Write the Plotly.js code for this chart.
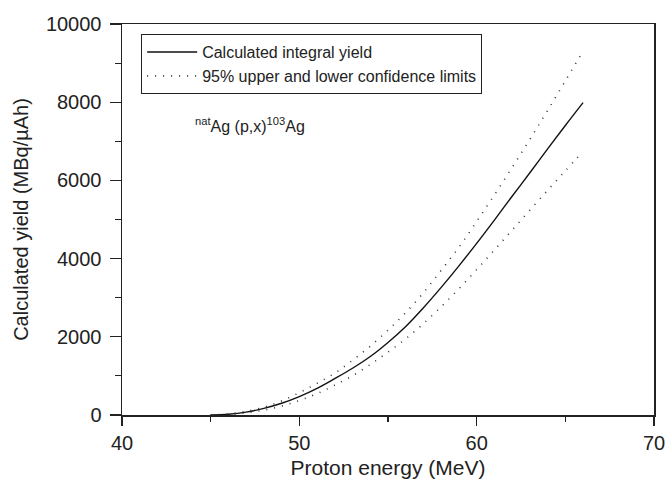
<!DOCTYPE html>
<html>
<head>
<meta charset="utf-8">
<script src="https://cdn.plot.ly/plotly-3.0.1.min.js"></script>
<style>html,body{margin:0;padding:0;background:#fff;}#chart{width:667px;height:481px;}</style>
</head>
<body>
<div id="chart"></div>
<script>
const energy = [45, 46, 47, 48, 49, 50, 51, 52, 53, 54, 55, 56, 57, 58, 59, 60, 61, 62, 63, 64, 65, 66];
const yieldCalc = [0, 20, 75, 170, 300, 470, 680, 930, 1195, 1495, 1855, 2265, 2745, 3265, 3815, 4390, 4985, 5595, 6195, 6805, 7405, 7990];
const yieldUpper = [0, 30, 95, 200, 360, 570, 810, 1070, 1400, 1760, 2170, 2620, 3130, 3700, 4290, 4950, 5630, 6330, 7050, 7790, 8545, 9305];
const yieldLower = [0, 15, 55, 125, 230, 370, 545, 765, 1005, 1290, 1610, 1950, 2340, 2770, 3230, 3720, 4220, 4730, 5240, 5745, 6245, 6740];
const xTicks = [40, 50, 60, 70];
const yTicks = [0, 2000, 4000, 6000, 8000, 10000];

const font = 'Liberation Sans, Arial, sans-serif';

const traces = [
  {x: energy, y: yieldCalc, mode: 'lines', line: {shape: 'spline', color: '#111', width: 1.4},
   name: 'Calculated integral yield'},
  {x: energy, y: yieldUpper, mode: 'lines', line: {shape: 'spline', color: '#333', width: 1.6, dash: '1px,7px'},
   name: '95% upper and lower confidence limits'},
  {x: energy, y: yieldLower, mode: 'lines', line: {shape: 'spline', color: '#333', width: 1.6, dash: '1px,7px'},
   name: 'lower', showlegend: false}
];

const layout = {
  width: 667, height: 481,
  margin: {l: 122, r: 13, t: 24, b: 66},
  paper_bgcolor: '#fff', plot_bgcolor: '#fff',
  font: {family: font, color: '#222', size: 20},
  showlegend: true,
  legend: {x: 0.036, y: 0.974, xanchor: 'left', yanchor: 'top', itemwidth: 50,
           bordercolor: '#222', borderwidth: 1, bgcolor: 'rgba(0,0,0,0)',
           font: {family: font, size: 16, color: '#222'}, tracegroupgap: 0},
  xaxis: {range: [40, 70], tickvals: xTicks, ticktext: xTicks.map(String),
          showgrid: false, zeroline: false, showline: true, linecolor: '#222', linewidth: 1.5,
          mirror: true, ticks: 'outside', ticklen: 9, tickwidth: 1.2, tickcolor: '#222',
          minor: {dtick: 5, tick0: 40, ticks: 'outside', ticklen: 5, tickwidth: 1.2, tickcolor: '#222', showgrid: false},
          tickfont: {size: 20},
          title: {text: 'Proton energy (MeV)', font: {size: 21}, standoff: 8}},
  yaxis: {range: [0, 10000], tickvals: yTicks, ticktext: yTicks.map(String),
          showgrid: false, zeroline: false, showline: true, linecolor: '#222', linewidth: 1.5,
          mirror: true, ticks: 'outside', ticklen: 11, tickwidth: 1.2, tickcolor: '#222',
          minor: {dtick: 1000, tick0: 0, ticks: 'outside', ticklen: 6, tickwidth: 1.2, tickcolor: '#222', showgrid: false},
          tickfont: {size: 20}, ticklabelstandoff: 4,
          title: {text: 'Calculated yield (MBq/µAh)', font: {size: 20}, standoff: 12}},
  annotations: [{xref: 'paper', yref: 'paper', x: (193 - 122) / 532, y: (415 - 125) / 391,
                 xanchor: 'left', yanchor: 'middle', showarrow: false,
                 text: '<sup>nat</sup>Ag (p,x)<sup>103</sup>Ag', font: {family: font, size: 16, color: '#222'}}]
};

Plotly.newPlot('chart', traces, layout, {displayModeBar: false, staticPlot: true});
</script>
</body>
</html>
